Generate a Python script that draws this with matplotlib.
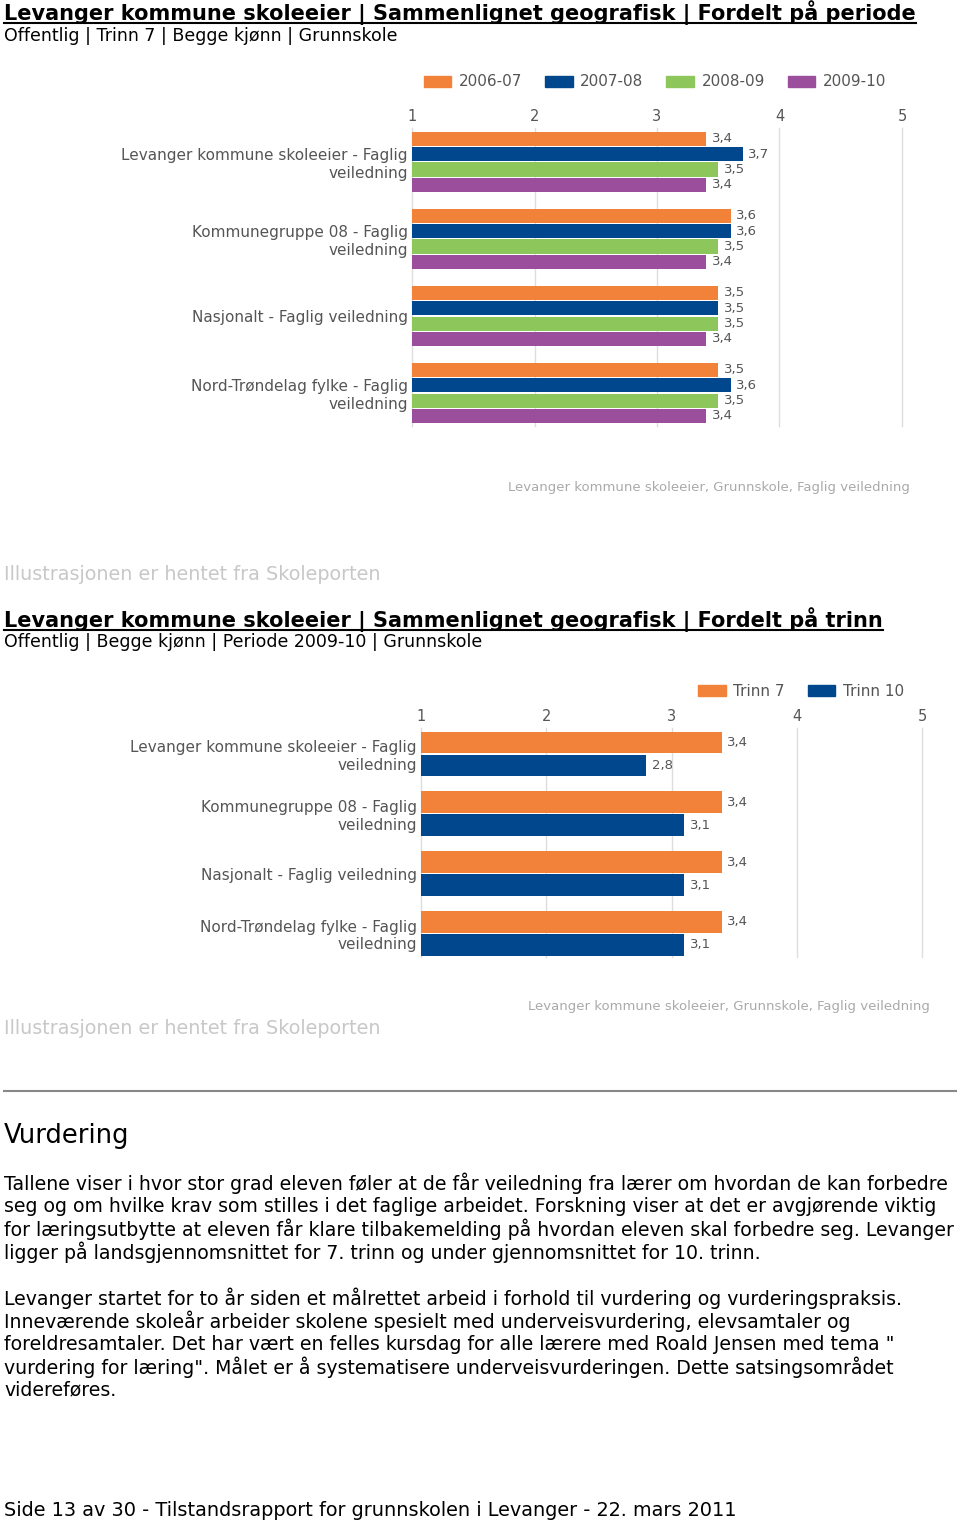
import matplotlib.pyplot as plt
from matplotlib.lines import Line2D
from matplotlib.patches import Patch

# ---- data ----
regions = [
    "Levanger kommune skoleeier - Faglig\nveiledning",
    "Kommunegruppe 08 - Faglig\nveiledning",
    "Nasjonalt - Faglig veiledning",
    "Nord-Trøndelag fylke - Faglig\nveiledning",
]
periods = ["2006-07", "2007-08", "2008-09", "2009-10"]
v_2006_07 = [3.4, 3.6, 3.5, 3.5]
v_2007_08 = [3.7, 3.6, 3.5, 3.6]
v_2008_09 = [3.5, 3.5, 3.5, 3.5]
v_2009_10 = [3.4, 3.4, 3.4, 3.4]

trinn = ["Trinn 7", "Trinn 10"]
v_trinn7 = [3.4, 3.4, 3.4, 3.4]
v_trinn10 = [2.8, 3.1, 3.1, 3.1]

scale_ticks = [1, 2, 3, 4, 5]

ORANGE = "#F2813A"
BLUE = "#00478E"
GREEN = "#8DC75B"
PURPLE = "#9B4E9C"
LABEL_GREY = "#555555"

W, H = 960, 1525
fig = plt.figure(figsize=(W / 100, H / 100), dpi=100)
fig.patch.set_facecolor("white")


def fx(px):
    return px / W


def fy(py):
    return 1 - py / H


def fmt(v):
    return f"{v:.1f}".replace(".", ",")


def bar_chart(rect, series, colors, pitch, ylim, height):
    ax = fig.add_axes(rect)
    n = len(series)
    for i, (vals, col) in enumerate(zip(series, colors)):
        ys = [g * pitch + i for g in range(len(vals))]
        widths = [v - 1 for v in vals]
        ax.barh(ys, widths, left=1, height=height, color=col, zorder=2)
        for y, v in zip(ys, vals):
            ax.annotate(fmt(v), (v, y), xytext=(4, 0), textcoords="offset points",
                        va="center", ha="left", fontsize=9.5, color=LABEL_GREY)
    for t in scale_ticks:
        ax.axvline(t, color="#dddddd", lw=1, zorder=0, clip_on=False)
    ax.set_xlim(1, 5)
    ax.set_ylim(*ylim)
    ax.set_xticks(scale_ticks)
    ax.set_xticklabels([str(t) for t in scale_ticks])
    ax.xaxis.tick_top()
    ax.tick_params(axis="x", length=0, pad=3, labelsize=10.5, labelcolor=LABEL_GREY)
    centers = [g * pitch + (n - 1) / 2 for g in range(len(regions))]
    ax.set_yticks(centers)
    ax.set_yticklabels(regions, linespacing=1.2)
    ax.tick_params(axis="y", length=0, pad=3, labelsize=11, labelcolor=LABEL_GREY)
    for s in ax.spines.values():
        s.set_visible(False)
    return ax


# ---- chart 1: fordelt på periode ----
ax1 = bar_chart([fx(412), fy(426), fx(902 - 412), (426 - 128) / H],
                [v_2006_07, v_2007_08, v_2008_09, v_2009_10],
                [ORANGE, BLUE, GREEN, PURPLE], 5, (18.65, -0.7), 0.92)
fig.legend([Patch(color=c) for c in [ORANGE, BLUE, GREEN, PURPLE]], periods,
           loc="center", bbox_to_anchor=(fx(655), fy(82)), ncol=4, frameon=False,
           fontsize=11, labelcolor=LABEL_GREY, handlelength=1.8, handleheight=0.75,
           handletextpad=0.5, columnspacing=1.5)

# ---- chart 2: fordelt på trinn ----
ax2 = bar_chart([fx(421), fy(957), fx(922 - 421), (957 - 728) / H],
                [v_trinn7, v_trinn10], [ORANGE, BLUE], 2.6, (9.33, -0.63), 0.95)
fig.legend([Patch(color=c) for c in [ORANGE, BLUE]], trinn,
           loc="center", bbox_to_anchor=(fx(801), fy(691)), ncol=2, frameon=False,
           fontsize=11, labelcolor=LABEL_GREY, handlelength=1.8, handleheight=0.75,
           handletextpad=0.5, columnspacing=1.5)

# ---- page text ----
titles = [
    (20, "Levanger kommune skoleeier | Sammenlignet geografisk | Fordelt på periode"),
    (627, "Levanger kommune skoleeier | Sammenlignet geografisk | Fordelt på trinn"),
]
title_texts = []
for y, s in titles:
    t = fig.text(fx(4), fy(y), s, fontsize=15, fontweight="bold", va="baseline", ha="left")
    title_texts.append((y, t))

fig.text(fx(4), fy(36), "Offentlig | Trinn 7 | Begge kjønn | Grunnskole", fontsize=12.5, va="center")
fig.text(fx(4), fy(642), "Offentlig | Begge kjønn | Periode 2009-10 | Grunnskole", fontsize=12.5, va="center")

src = "Levanger kommune skoleeier, Grunnskole, Faglig veiledning"
fig.text(fx(910), fy(488), src, fontsize=9.5, color="#aaaaaa", ha="right", va="center")
fig.text(fx(930), fy(1007), src, fontsize=9.5, color="#aaaaaa", ha="right", va="center")

illu = "Illustrasjonen er hentet fra Skoleporten"
fig.text(fx(4), fy(574), illu, fontsize=13.8, color="#c8c8c8", va="center")
fig.text(fx(4), fy(1028), illu, fontsize=13.8, color="#c8c8c8", va="center")

fig.add_artist(Line2D([fx(4), fx(956)], [fy(1091), fy(1091)], color="#888888", lw=1.5))
fig.text(fx(4), fy(1136), "Vurdering", fontsize=18.5, va="center")

para1 = [
    "Tallene viser i hvor stor grad eleven føler at de får veiledning fra lærer om hvordan de kan forbedre",
    "seg og om hvilke krav som stilles i det faglige arbeidet. Forskning viser at det er avgjørende viktig",
    "for læringsutbytte at eleven får klare tilbakemelding på hvordan eleven skal forbedre seg. Levanger",
    "ligger på landsgjennomsnittet for 7. trinn og under gjennomsnittet for 10. trinn.",
]
para2 = [
    "Levanger startet for to år siden et målrettet arbeid i forhold til vurdering og vurderingspraksis.",
    "Inneværende skoleår arbeider skolene spesielt med underveisvurdering, elevsamtaler og",
    "foreldresamtaler. Det har vært en felles kursdag for alle lærere med Roald Jensen med tema \"",
    "vurdering for læring\". Målet er å systematisere underveisvurderingen. Dette satsingsområdet",
    "videreføres.",
]
for i, line in enumerate(para1):
    fig.text(fx(4), fy(1183 + 23 * i), line, fontsize=13.6, va="center")
for i, line in enumerate(para2):
    fig.text(fx(4), fy(1298 + 23 * i), line, fontsize=13.6, va="center")

fig.text(fx(4), fy(1510), "Side 13 av 30 - Tilstandsrapport for grunnskolen i Levanger - 22. mars 2011",
         fontsize=13.9, va="center")

# underline the titles
fig.canvas.draw()
for y, t in title_texts:
    bb = t.get_window_extent()
    fig.add_artist(Line2D([bb.x0 / W, bb.x1 / W], [fy(y + 3), fy(y + 3)], color="black", lw=1.5))

fig.savefig("out.png", dpi=100)
